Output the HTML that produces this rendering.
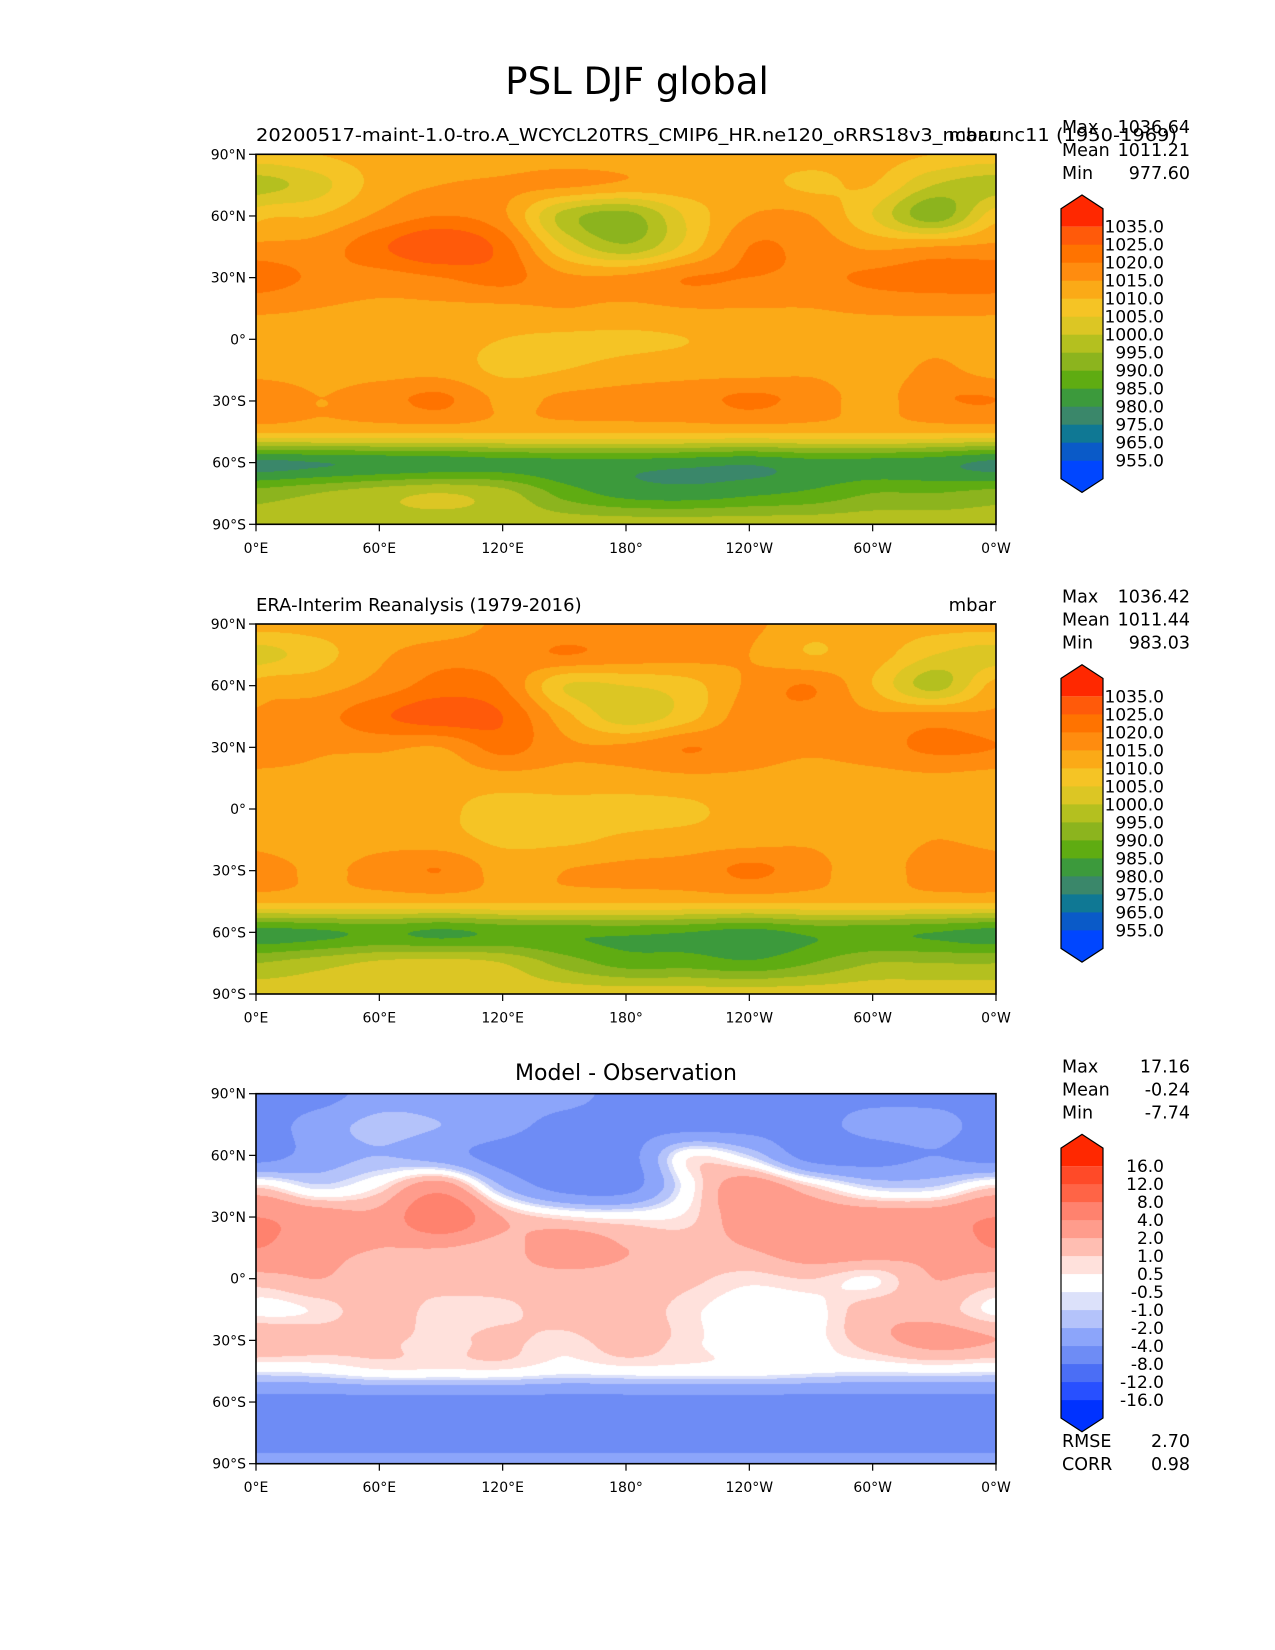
<!DOCTYPE html>
<html><head><meta charset="utf-8">
<style>
html,body{margin:0;padding:0;background:#fff;}
#fig{position:relative;width:1275px;height:1650px;overflow:hidden;background:#fff;font-family:"DejaVu Sans","Liberation Sans",sans-serif;}
canvas{position:absolute;}
svg{position:absolute;left:0;top:0;}
</style></head>
<body>
<div id="fig">
<canvas id="map0" width="740" height="370" style="left:256px;top:154px"></canvas>
<canvas id="map1" width="740" height="370" style="left:256px;top:624px"></canvas>
<canvas id="map2" width="740" height="370" style="left:256px;top:1094px"></canvas>
<svg id="ov" width="1275" height="1650">
<text x="637" y="94" font-size="37" text-anchor="middle">PSL DJF global</text>
</svg>
</div>
<script>
// ---------- data ----------
const lats = [90,75,60,45,30,15,0,-15,-30,-45,-60,-75,-90];
const lons = [0,30,60,90,120,150,180,210,240,270,300,330,360];
const modelPSL = [
[1008,1010,1012,1012,1012,1012,1012,1012,1012,1012,1012,1010,1008],
[998,1003,1012,1015,1016,1016,1014,1013,1012,1009,1010,1000,998],
[1008,1010,1016,1020,1016,998,993,1006,1015,1015,1005,992,1004],
[1016,1017,1024,1030,1023,1005,996,1007,1020,1018,1014,1015,1017],
[1023,1019,1018,1020,1022,1016,1016,1020,1020,1019,1021,1023,1023],
[1016,1015,1014,1014,1014,1015,1014,1015,1015,1015,1016,1016,1016],
[1013,1013,1013,1012,1010,1009,1009,1010,1012,1013,1012,1014,1013],
[1013,1013,1013,1013,1009,1010,1012,1013,1013,1014,1012,1016,1013],
[1020,1015,1018,1021,1014,1016,1017,1018,1021,1018,1013,1019,1020],
[1011,1011,1011,1011,1011,1011,1011,1011,1011,1011,1011,1011,1011],
[979,980,981,982,983,983,983,982,981,983,983,982,979],
[992,995,998,1000,997,988,983,982,984,986,990,990,992],
[998,998,998,998,998,998,998,998,998,998,998,998,998]];
const obsPSL = [
[1012,1012,1012,1012,1016,1016,1016,1016,1016,1012,1012,1012,1012],
[1003,1008,1014,1018,1018,1020,1018,1017,1015,1010,1012,1005,1003],
[1012,1013,1017,1022,1020,1005,1005,1008,1016,1020,1010,998,1008],
[1016,1018,1024,1028,1025,1012,1002,1008,1018,1018,1016,1017,1016],
[1020,1016,1016,1015,1022,1016,1016,1020,1018,1016,1018,1021,1020],
[1013,1013,1012,1012,1013,1013,1013,1014,1014,1013,1013,1014,1013],
[1012,1011,1012,1011,1008,1008,1008,1009,1012,1012,1011,1012,1012],
[1013,1011,1013,1012,1009,1009,1011,1012,1013,1014,1011,1015,1013],
[1018,1014,1017,1020,1013,1015,1016,1017,1021,1017,1012,1018,1018],
[1011,1011,1011,1011,1011,1011,1011,1011,1011,1011,1011,1011,1011],
[983,984,986,984,986,986,986,985,983,986,986,985,983],
[995,998,1001,1002,1000,993,988,988,986,990,995,995,995],
[1003,1003,1003,1003,1003,1003,1003,1003,1003,1003,1003,1003,1003]];
const diffPSL = [
[-5,-5,-3,-3,-3,-3,-5,-5,-5,-5,-5,-5,-5],
[-5,-3,-1.5,-2,-3,-5,-5,-5,-5,-5,-3,-3,-5],
[-5,-3,-2,-3,-5,-6,-5,0.3,-1,-5,-5,-4,-5],
[0.8,-0.8,0.5,3,-2,-5,-5,0,3,1,-1,-1,0.8],
[4,3,2.5,6,2,0.7,0.3,0.7,3,3,3,3,5],
[4,2.5,2,2,1.5,3,2,1.5,2,3,3,2.5,4],
[1.5,2,1.3,1.5,1.5,1.5,1.5,1.2,0.7,1,0.4,2,1.5],
[0.3,0.6,1.5,0.7,0.8,1.5,1.5,0.7,0,0.2,1.5,1.5,0.6],
[2,1.5,1.2,0.8,1.2,0.7,1.5,0.7,0,0.2,1.5,2.5,2],
[-0.5,-0.3,0.3,0.3,0.3,-0.2,0,0,0,-0.3,-0.5,-0.3,-0.5],
[-5,-5,-5,-5,-5,-5,-5,-5,-5,-5,-5,-5,-5],
[-5,-5,-5,-5,-5,-5,-5,-5,-5,-5,-5,-5,-5],
[-3.5,-3.5,-3.5,-3.5,-3.5,-3.5,-3.5,-3.5,-3.5,-3.5,-3.5,-3.5,-3.5]];
const pslLevels = [955,965,975,980,985,990,995,1000,1005,1010,1015,1020,1025,1035];
const pslColors = ['#0046ff','#0a5ac8','#0f7894','#3a876a','#3c9a3c','#5fac12','#8cb41e','#b4c01f','#dcc624','#f5c425','#fbaa17','#ff8c0f','#ff7300','#ff5a0a','#ff2800'];
const pslLabels = ['955.0','965.0','975.0','980.0','985.0','990.0','995.0','1000.0','1005.0','1010.0','1015.0','1020.0','1025.0','1035.0'];
const diffLevels = [-16,-12,-8,-4,-2,-1,-0.5,0.5,1,2,4,8,12,16];
const diffColors = ['#0032ff','#2850ff','#4b6ef5','#6e8cf5','#8ca5fa','#b4c3fa','#dce1fa','#ffffff','#ffe1dc','#ffbeb2','#ff9c8c','#ff826e','#ff6446','#ff4a28','#ff2800'];
const diffLabels = ['-16.0','-12.0','-8.0','-4.0','-2.0','-1.0','-0.5','0.5','1.0','2.0','4.0','8.0','12.0','16.0'];
const statNames = ['Max','Mean','Min'];
const statsModel = ['1036.64','1011.21','977.60'];
const statsObs = ['1036.42','1011.44','983.03'];
const statsDiff = ['17.16','-0.24','-7.74'];
const latTickVals = [90,60,30,0,-30,-60,-90];
const latTickLabels = ['90°N','60°N','30°N','0°','30°S','60°S','90°S'];
const lonTickVals = [0,60,120,180,240,300,360];
const lonTickLabels = ['0°E','60°E','120°E','180°','120°W','60°W','0°W'];

// ---------- geometry ----------
const AX_L=256, AX_W=740, AX_H=370, PANEL_TOPS=[154.3,624,1093.7];
const xOf = lon => AX_L + lon/360*AX_W;
const yOf = (lat,top) => top + (90-lat)/180*AX_H;

function hex(c){return [parseInt(c.slice(1,3),16),parseInt(c.slice(3,5),16),parseInt(c.slice(5,7),16)];}
function cr(p0,p1,p2,p3,t){
  return p1+0.5*t*(p2-p0+t*(2*p0-5*p1+4*p2-p3+t*(3*(p1-p2)+p3-p0)));
}
function g(grid,i,j){
  i=Math.max(0,Math.min(12,i));
  j=((j%12)+12)%12;
  return grid[i][j];
}
function sample(grid,lat,lon){
  const fi=(90-lat)/15, fj=lon/30;
  const i=Math.min(Math.floor(fi),11), j=Math.floor(fj);
  const ti=fi-i, tj=fj-j;
  const rows=[];
  for(let r=-1;r<=2;r++){
    rows.push(cr(g(grid,i+r,j-1),g(grid,i+r,j),g(grid,i+r,j+1),g(grid,i+r,j+2),tj));
  }
  return cr(rows[0],rows[1],rows[2],rows[3],ti);
}
function drawMap(id,grid,levels,colors){
  const cv=document.getElementById(id), ctx=cv.getContext('2d');
  const img=ctx.createImageData(AX_W,AX_H), rgb=colors.map(hex);
  for(let py=0;py<AX_H;py++){
    const lat=90-(py+0.5)/AX_H*180;
    for(let px=0;px<AX_W;px++){
      const lon=(px+0.5)/AX_W*360;
      const v=sample(grid,lat,lon);
      let k=0; while(k<levels.length && v>=levels[k]) k++;
      const c=rgb[k], o=(py*AX_W+px)*4;
      img.data[o]=c[0];img.data[o+1]=c[1];img.data[o+2]=c[2];img.data[o+3]=255;
    }
  }
  ctx.putImageData(img,0,0);
}
drawMap('map0',modelPSL,pslLevels,pslColors);
drawMap('map1',obsPSL,pslLevels,pslColors);
drawMap('map2',diffPSL,diffLevels,diffColors);

const NS='http://www.w3.org/2000/svg', ov=document.getElementById('ov');
function mk(tag,attrs,txt){
  const e=document.createElementNS(NS,tag);
  for(const k in attrs) e.setAttribute(k,attrs[k]);
  if(txt!==undefined) e.textContent=txt;
  ov.appendChild(e); return e;
}
function axes(top,p){
  const fr=mk('rect',{x:AX_L,y:top,width:AX_W,height:AX_H,fill:'none',stroke:'#000','stroke-width':1.6});
  
  
  latTickVals.forEach((lat,i)=>{
    const y=yOf(lat,top);
    const t=mk('line',{x1:AX_L-7,x2:AX_L,y1:y,y2:y,stroke:'#000','stroke-width':1.2});
    
    
    const l=mk('text',{x:AX_L-10,y:y+5,'font-size':14,'text-anchor':'end'},latTickLabels[i]);
    
    
  });
  lonTickVals.forEach((lon,i)=>{
    const x=xOf(lon);
    const t=mk('line',{x1:x,x2:x,y1:top+AX_H,y2:top+AX_H+7,stroke:'#000','stroke-width':1.2});
    
    
    const l=mk('text',{x:x,y:top+AX_H+28.5,'font-size':14,'text-anchor':'middle'},lonTickLabels[i]);
    
    
  });
}
function stats(top,vals,p){
  const off=top-154.3;
  statNames.forEach((n,i)=>{
    const y=133+off+i*23;
    const a=mk('text',{x:1062,y:y,'font-size':17.5},n);
    
    
    const b=mk('text',{x:1190,y:y,'font-size':17.5,'text-anchor':'end'},vals[i]);
    
    
  });
}
function colorbar(top,colors,labels,p){
  const off=top-154.3, x0=1061, x1=1103, xm=(x0+x1)/2;
  const b0=226.7+off, step=18, rt=208.7+off, rb=b0+13*step+18;
  for(let k=0;k<15;k++){
    const ci=14-k;
    let ya = k===0? rt : b0+(k-1)*step;
    let yb = k===14? rb : b0+k*step;
    let e;
    if(k===0){
      e=mk('polygon',{points:`${x0},${yb} ${x0},${rt} ${xm},${rt-13.7} ${x1},${rt} ${x1},${yb}`,fill:colors[ci]});
    } else if(k===14){
      e=mk('polygon',{points:`${x0},${ya} ${x0},${rb} ${xm},${rb+13.7} ${x1},${rb} ${x1},${ya}`,fill:colors[ci]});
    } else {
      e=mk('rect',{x:x0,y:ya,width:x1-x0,height:yb-ya+0.5,fill:colors[ci]});
    }
    
    
  }
  const o=mk('polygon',{points:`${x0},${rt} ${xm},${rt-13.7} ${x1},${rt} ${x1},${rb} ${xm},${rb+13.7} ${x0},${rb}`,fill:'none',stroke:'#000','stroke-width':1.2});
  
  
  for(let i=0;i<14;i++){
    const y=b0+i*step;
    const t=mk('text',{x:1164,y:y+6,'font-size':17,'text-anchor':'end'},labels[13-i]);
    
    
  }
}
PANEL_TOPS.forEach((top,p)=>axes(top,p));
stats(PANEL_TOPS[0],statsModel,'model');
stats(PANEL_TOPS[1],statsObs,'obs');
stats(PANEL_TOPS[2],statsDiff,'diff');
colorbar(PANEL_TOPS[0],pslColors,pslLabels,'model');
colorbar(PANEL_TOPS[1],pslColors,pslLabels,'obs');
colorbar(PANEL_TOPS[2],diffColors,diffLabels,'diff');

let s1=mk('text',{x:256,y:141,'font-size':18,textLength:921,lengthAdjust:'spacingAndGlyphs'},'20200517-maint-1.0-tro.A_WCYCL20TRS_CMIP6_HR.ne120_oRRS18v3_ncar.unc11 (1950-1969)');


let u1=mk('text',{x:996,y:141,'font-size':18,'text-anchor':'end'},'mbar');


let s2=mk('text',{x:256,y:611,'font-size':18},'ERA-Interim Reanalysis (1979-2016)');


let u2=mk('text',{x:996,y:611,'font-size':18,'text-anchor':'end'},'mbar');


let s3=mk('text',{x:626,y:1080,'font-size':22,'text-anchor':'middle'},'Model - Observation');


[['RMSE','2.70',1447],['CORR','0.98',1470]].forEach(r=>{
  const a=mk('text',{x:1062,y:r[2],'font-size':17.5},r[0]);
  
  
  const b=mk('text',{x:1190,y:r[2],'font-size':17.5,'text-anchor':'end'},r[1]);
  
  
});
</script>
</body></html>
